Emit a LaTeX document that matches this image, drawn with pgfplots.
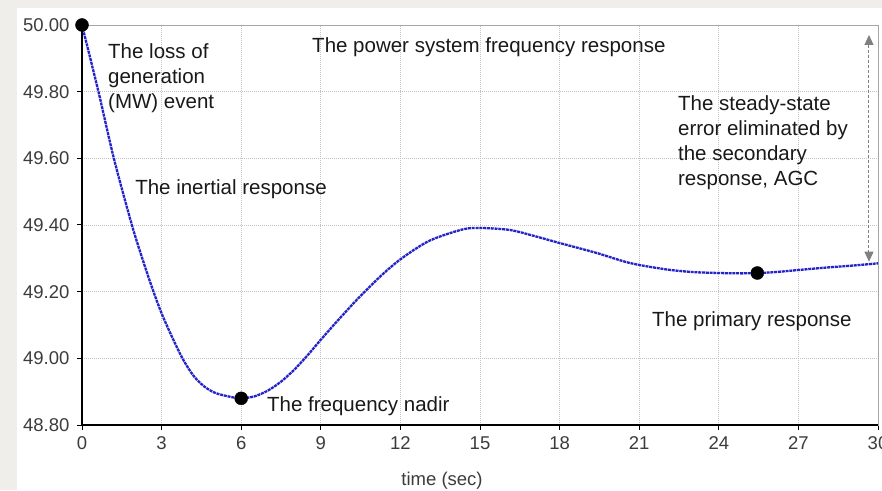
\documentclass[border=0pt]{standalone}
\usepackage{pgfplots}
\pgfplotsset{compat=1.18}
\usepackage{fontspec}
\setmainfont{Liberation Sans}
\usetikzlibrary{arrows.meta}
\definecolor{bg}{RGB}{239,238,235}
\definecolor{curve}{RGB}{35,35,200}
\definecolor{gridc}{RGB}{195,195,195}
\definecolor{ticklab}{RGB}{60,60,60}
\definecolor{txt}{RGB}{25,25,25}
\definecolor{arrowc}{RGB}{128,128,128}
\begin{document}
\begin{tikzpicture}[x=1pt,y=1pt]
\path[use as bounding box] (0,0) rectangle (882,490);
\clip (0,0) rectangle (882,490);
\fill[bg] (0,0) rectangle (882,490);
\fill[white] (17,0) rectangle (882,482);
\begin{axis}[
  at={(82pt,65pt)}, anchor=south west,
  scale only axis, width=796pt, height=400pt,
  xmin=0, xmax=30, ymin=48.8, ymax=50,
  xtick={0,3,6,9,12,15,18,21,24,27,30},
  ytick={48.8,49.0,49.2,49.4,49.6,49.8,50.0},
  scaled y ticks=false,
  /pgf/number format/assume math mode=true,
  y tick label style={/pgf/number format/fixed,/pgf/number format/fixed zerofill,/pgf/number format/precision=2, xshift=-4pt},
  x tick label style={yshift=-3pt},
  tick label style={font=\fontsize{18.5}{20}\selectfont, text=ticklab},
  tick align=outside, xtick pos=left, ytick pos=left,
  major tick length=5pt,
  tick style={black, line width=1pt},
  axis line style={draw=gray!70, line width=0.8pt},
  grid=major,
  major grid style={gridc, dash pattern=on 1pt off 1pt, line width=0.8pt},
  xlabel={time (sec)},
  xlabel style={at={(axis description cs:0.4523,-0.14)}, anchor=center, font=\fontsize{18.5}{20}\selectfont, text=ticklab},
  clip=false,
]
\draw[black, line width=1.2pt] (rel axis cs:0,1) -- (rel axis cs:0,0) -- (rel axis cs:1,0);
\addplot[curve, line width=2.3pt, dash pattern=on 3pt off 0.8pt, smooth, tension=0.5] coordinates {
(0,50.000) (0.62,49.80) (1.2,49.60) (1.88,49.40) (2.3,49.293) (2.65,49.21) (3.0,49.135) (3.4,49.063) (3.8,48.998)
(4.2,48.948) (4.6,48.916) (5.0,48.897) (5.5,48.886) (6.0,48.88) (6.5,48.886) (7.0,48.903)
(7.5,48.93) (8.0,48.966) (8.5,49.009) (8.97,49.053) (9.6,49.11) (10.23,49.165) (10.6,49.195)
(11.3,49.25) (12.05,49.30) (13.1,49.353) (14.36,49.387) (15.07,49.391) (16.13,49.385)
(17.0,49.368) (18.0,49.346) (19.4,49.316) (20.65,49.286) (22,49.267) (23,49.259) (24,49.256)
(25,49.255) (26,49.258) (27,49.265) (28,49.272) (29,49.278) (30,49.285)
};
\addplot[only marks, mark=*, mark size=6.5pt, black] coordinates {(0,50) (6,48.88) (25.45,49.256)};
\draw[arrowc, line width=1pt, dash pattern=on 3pt off 2pt, {Triangle[length=10pt,width=9pt]}-{Triangle[length=10pt,width=9pt]}] (axis cs:29.66,49.97) -- (axis cs:29.66,49.29);
\tikzset{ann/.style={anchor=west, inner sep=0pt, align=left, font=\fontsize{20.5}{25}\selectfont, text=txt}}
\node[ann] at (axis cs:0.98,49.839) {The loss of\\generation\\(MW) event};
\node[ann] at (axis cs:8.67,49.933) {The power system frequency response};
\node[ann] at (axis cs:22.46,49.647) {The steady-state\\error eliminated by\\the secondary\\response, AGC};
\node[ann] at (axis cs:2.0,49.507) {The inertial response};
\node[ann] at (axis cs:6.97,48.857) {The frequency nadir};
\node[ann] at (axis cs:21.48,49.112) {The primary response};
\end{axis}
\end{tikzpicture}
\end{document}
